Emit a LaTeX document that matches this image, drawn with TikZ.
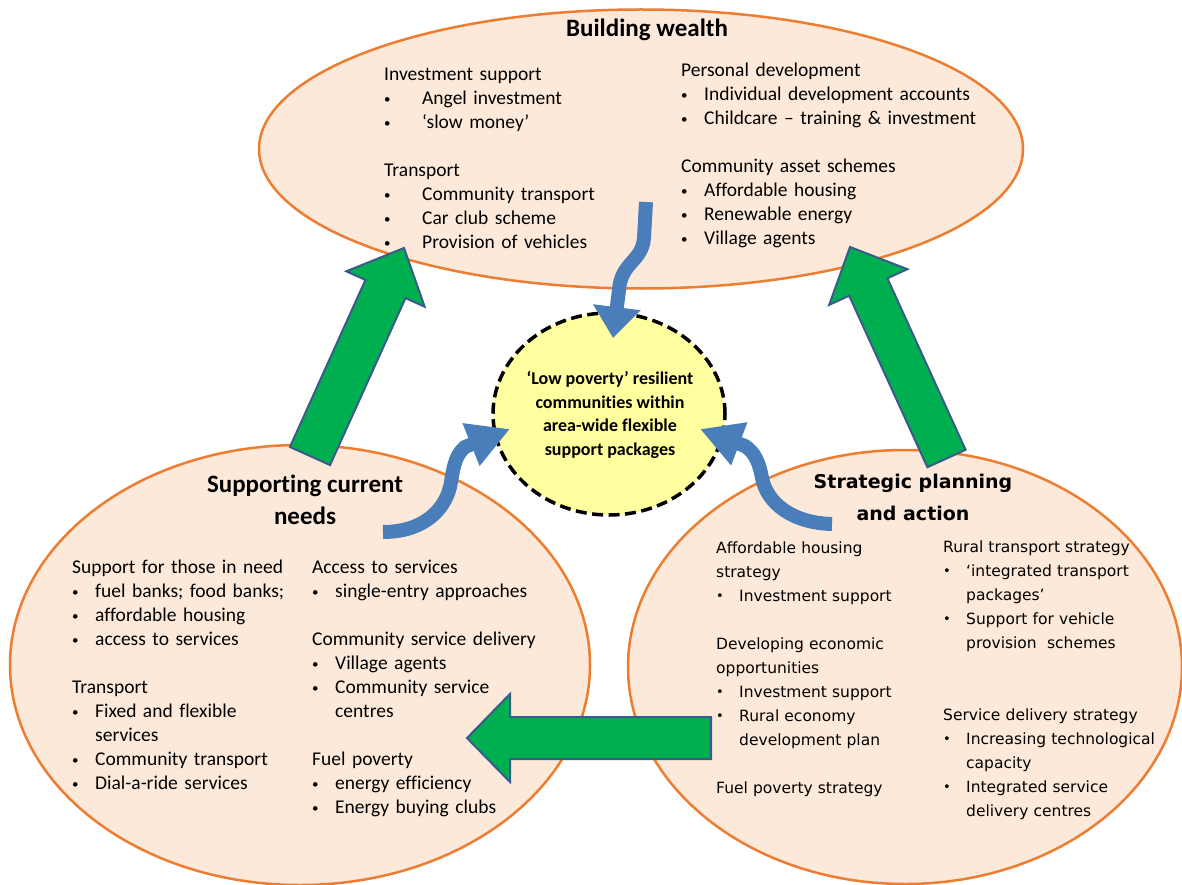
\documentclass[tikz,border=0pt]{standalone}
\usepackage{fontspec}
\setmainfont{Carlito}[Ligatures=NoCommon]
\newfontfamily\dejavu{DejaVu Sans}
\usetikzlibrary{shapes.geometric,arrows.meta,calc}
\definecolor{peach}{HTML}{FDE9D9}
\definecolor{orangeln}{HTML}{ED7D31}
\definecolor{yel}{HTML}{FFFF9F}
\definecolor{bluearr}{HTML}{4A7EBB}
\definecolor{grn}{HTML}{00B050}
\definecolor{grnedge}{HTML}{3A5A8C}
\newcommand\smallbul{\raisebox{1pt}{\fontsize{13}{13}\selectfont\textbullet}}
\newcommand\hd[1]{\par\noindent\rule{0pt}{16pt}#1}
\newcommand\bl[2][23pt]{\par\noindent\rule{0pt}{16pt}\makebox[#1][l]{\smallbul}#2}
\newcommand\cn[2][23pt]{\par\noindent\rule{0pt}{16pt}\hspace*{#1}#2}
\newcommand\gp{\par\vspace{24pt}}
\newcommand\fatarrow[5]{%
  \path ($(#2)!#5!(#1)$) coordinate (#2h);
  \draw[greenarrow] ($(#1)!#3!90:(#2)$) -- ($(#2h)!#3!90:(#2)$) -- ($(#2h)!#4!90:(#2)$)
    -- (#2) -- ($(#2h)!#4!-90:(#2)$) -- ($(#2h)!#3!-90:(#2)$) -- ($(#1)!#3!-90:(#2)$) -- cycle;}
\begin{document}
\begin{tikzpicture}[x=1pt,y=-1pt,
  bigell/.style={ellipse, draw=orangeln, line width=2.5pt, fill=peach, inner sep=0pt},
  hub/.style={ellipse, draw=black, line width=3.5pt, dash pattern=on 11pt off 5.5pt, fill=yel, inner sep=0pt},
  blk/.style={anchor=north west, inner sep=0pt, text width=#1, align=left, font=\fontsize{19.5}{24}\selectfont},
  blkv/.style={anchor=north west, inner sep=0pt, text width=#1, align=left, font=\dejavu\fontsize{15.5}{24}\selectfont},
  ttl/.style={font=\bfseries\fontsize{25}{32}\selectfont, align=center, inner sep=0pt},
  ttlv/.style={font=\dejavu\bfseries\fontsize{19}{32}\selectfont, align=center, inner sep=0pt},
  hubtext/.style={font=\bfseries\fontsize{18}{23.7}\selectfont, align=center, inner sep=0pt},
  bluearrow/.style={draw=bluearr, line width=14pt},
  greenarrow/.style={fill=grn, draw=grnedge, line width=2pt, line join=miter}]
\useasboundingbox (0,0) rectangle (1182,885);
\fill[white] (0,0) rectangle (1182,885);

% ellipses
\node[bigell, minimum width=764pt, minimum height=279pt] (top) at (641,149) {};
\node[bigell, minimum width=580pt, minimum height=440pt] (left) at (300,665) {};
\node[bigell, minimum width=554pt, minimum height=434pt] (right) at (905,667) {};
\node[hub, minimum width=232pt, minimum height=202pt] (hub) at (609,414) {};

% titles
\node[ttl, anchor=base] (ttop) at (647,37) {Building wealth};
\node[ttl] (tleft) at (305,500) {Supporting current\\needs};
\node[ttlv] (tright) at (913,497) {Strategic planning\\and action};
\node[hubtext] (hubtxt) at (610,415) {‘Low poverty’ resilient\\communities within\\area-wide flexible\\support packages};

% top ellipse text
\node[blk=280pt] (tl) at (384,56) {%
\hd{Investment support}
\bl[38pt]{Angel investment}
\bl[38pt]{‘slow money’}
\gp
\hd{Transport}
\bl[38pt]{Community transport}
\bl[38pt]{Car club scheme}
\bl[38pt]{Provision of vehicles}};
\node[blk=330pt] (tr) at (681,52) {%
\hd{Personal development}
\bl{Individual development accounts}
\bl{Childcare – training \& investment}
\gp
\hd{Community asset schemes}
\bl{Affordable housing}
\bl{Renewable energy}
\bl{Village agents}};

% left ellipse text
\node[blk=240pt] (ll) at (72,549) {%
\hd{Support for those in need}
\bl{fuel banks; food banks;}
\bl{affordable housing}
\bl{access to services}
\gp
\hd{Transport}
\bl{Fixed and flexible}
\cn{services}
\bl{Community transport}
\bl{Dial-a-ride services}};
\node[blk=260pt] (lr) at (312,549) {%
\hd{Access to services}
\bl{single-entry approaches}
\gp
\hd{Community service delivery}
\bl{Village agents}
\bl{Community service}
\cn{centres}
\gp
\hd{Fuel poverty}
\bl{energy efficiency}
\bl{Energy buying clubs}};

% right ellipse text
\node[blkv=220pt] (rl) at (716,529) {%
\hd{Affordable housing}
\hd{strategy}
\bl{Investment support}
\gp
\hd{Developing economic}
\hd{opportunities}
\bl{Investment support}
\bl{Rural economy}
\cn{development plan}
\gp
\hd{Fuel poverty strategy}};
\node[blkv=240pt] (rr) at (943,528) {%
\hd{Rural transport strategy}
\bl{‘integrated transport}
\cn{packages’}
\bl{Support for vehicle}
\cn{provision\ \ schemes}
\gp\gp
\hd{Service delivery strategy}
\bl{Increasing technological}
\cn{capacity}
\bl{Integrated service}
\cn{delivery centres}};

% green arrows
\coordinate (gLb) at (310,456);
\coordinate (gLt) at (404,248);
\coordinate (gRb) at (946.5,458.5);
\coordinate (gRt) at (850,247);
\coordinate (gHb) at (711,738);
\coordinate (gHt) at (467,738);
\fatarrow{gLb}{gLt}{22pt}{43pt}{45pt}
\fatarrow{gRb}{gRt}{21pt}{43pt}{44pt}
\fatarrow{gHb}{gHt}{21pt}{44pt}{43pt}

% blue arrows
\coordinate (b1) at (646,202);
\coordinate (t1) at (613,338);
\coordinate (b2) at (383,532);
\coordinate (t2) at (510,429);
\coordinate (b3) at (832,524);
\coordinate (t3) at (700,429);
\draw[bluearrow, -{Triangle[width=46pt,length=31pt]}] (b1) -- (644,238) .. controls (642,262) and (621,262) .. (619,290) -- (t1);
\draw[bluearrow, -{Triangle[width=43pt,length=42pt]}] (b2) .. controls (425,532) and (447,508) .. (451,482) .. controls (454,462) and (457,454) .. (465,447) -- (t2);
\draw[bluearrow, -{Triangle[width=43pt,length=42pt]}] (b3) .. controls (792,523) and (767,503) .. (762,478) .. controls (759,462) and (755,453) .. (745,446) -- (t3);
\end{tikzpicture}
\end{document}
